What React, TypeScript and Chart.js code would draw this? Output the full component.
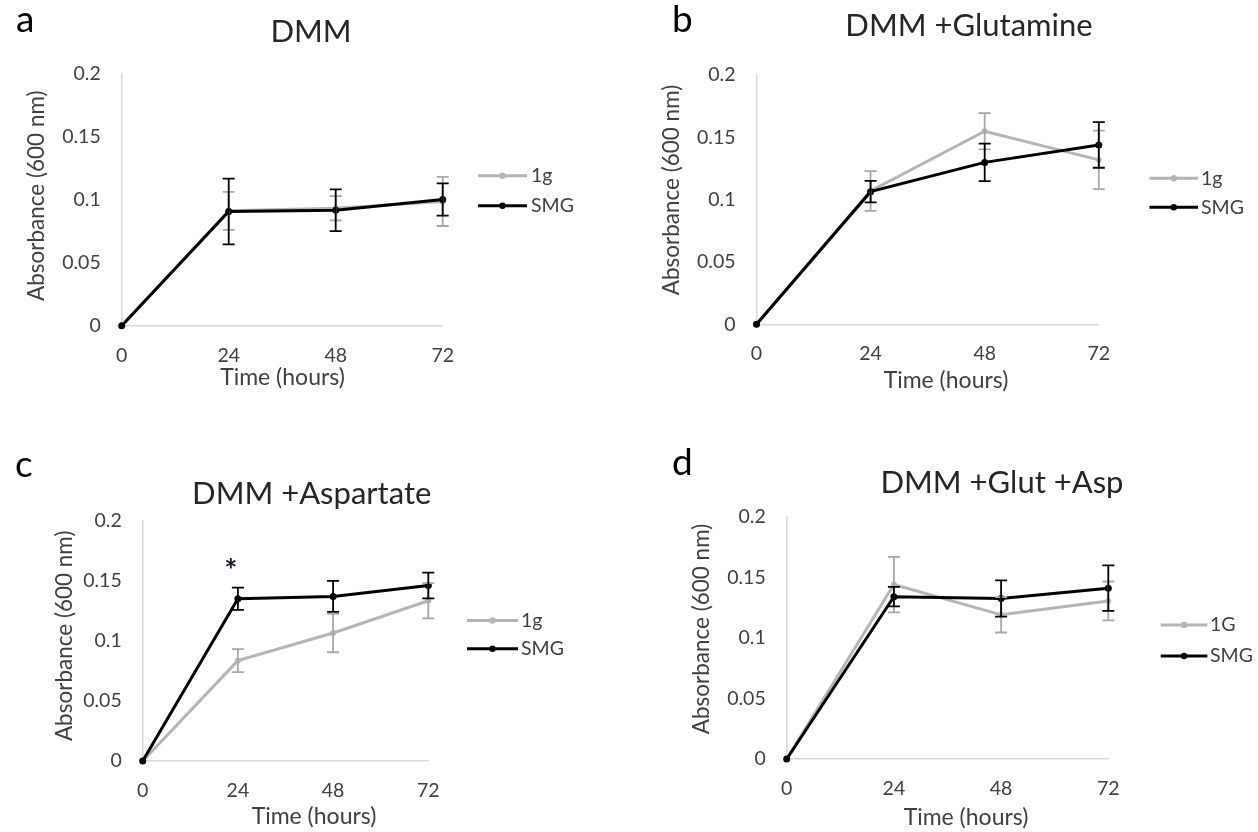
import React, { useEffect, useRef } from 'react';
import { Chart, registerables } from 'chart.js';

Chart.register(...registerables);

// ---------- data ----------
const timeLabels = ['0', '24', '48', '72'];
const yTickMin = 0;
const yTickMax = 0.2;
const yTickStep = 0.05;

// Panel a: DMM
const a1g = [0, 0.091, 0.093, 0.0985];
const a1gErr = [0, 0.015, 0.0096, 0.0195];
const aSMG = [0, 0.0905, 0.0915, 0.1];
const aSMGErr = [0, 0.026, 0.0165, 0.0128];

// Panel b: DMM +Glutamine
const b1g = [0, 0.107, 0.155, 0.132];
const b1gErr = [0, 0.016, 0.0145, 0.0235];
const bSMG = [0, 0.1065, 0.13, 0.144];
const bSMGErr = [0, 0.0086, 0.015, 0.0183];

// Panel c: DMM +Aspartate
const c1g = [0, 0.0835, 0.1065, 0.1334];
const c1gErr = [0, 0.0096, 0.016, 0.0147];
const cSMG = [0, 0.135, 0.137, 0.146];
const cSMGErr = [0, 0.0093, 0.0129, 0.0107];

// Panel d: DMM +Glut +Asp
const d1g = [0, 0.144, 0.119, 0.1305];
const d1gErr = [0, 0.0229, 0.0146, 0.016];
const dSMG = [0, 0.134, 0.1325, 0.141];
const dSMGErr = [0, 0.008, 0.0149, 0.0188];

const panelLetters = ['a', 'b', 'c', 'd'];
const panelTitles = ['DMM', 'DMM +Glutamine', 'DMM +Aspartate', 'DMM +Glut +Asp'];
const seriesNamesLower = ['1g', 'SMG'];
const seriesNamesUpper = ['1G', 'SMG'];
const xAxisTitle = 'Time (hours)';
const yAxisTitle = 'Absorbance (600 nm)';

// ---------- styles ----------
const FONT = 'Lato, "Open Sans", sans-serif';
const GRAY = '#b5b5b5';
const GRAY_ERR = '#a8a8a8';
const BLACK = '#000000';
const TEXT = '#404040';

const CW = 629;
const CH = 416;

type Layout = {
  left: number; top: number;
  yWidth: number; padTop: number; padRight: number; padBottom: number;
  letterX: number; letterY: number;
  titleX: number; titleY: number;
  xTitleX: number; xTitleY: number;
  yTitleX: number; yTitleY: number;
  legX0: number; legX1: number; legTextX: number; legY1: number; legY2: number;
  asterisk?: { dx: number; y: number };
};

const layouts: Layout[] = [
  { left: 0, top: 0, yWidth: 121.7, padTop: 73.3, padRight: 186.3, padBottom: 30.3,
    letterX: 16, letterY: 32, titleX: 311, titleY: 32, xTitleX: 282.5, xTitleY: 377.7,
    yTitleX: 37, yTitleY: 195.7, legX0: 478, legX1: 527, legTextX: 531, legY1: 175.7, legY2: 205.7 },
  { left: 629, top: 0, yWidth: 127.5, padTop: 75.2, padRight: 159.2, padBottom: 31.7,
    letterX: 43, letterY: 31.7, titleX: 340, titleY: 26, xTitleX: 317, xTitleY: 381,
    yTitleX: 42.7, yTitleY: 190, legX0: 520.5, legX1: 569, legTextX: 572, legY1: 178.3, legY2: 207.3 },
  { left: 0, top: 416, yWidth: 142.7, padTop: 104.7, padRight: 200.7, padBottom: 11,
    letterX: 15, letterY: 60.7, titleX: 311.7, titleY: 78, xTitleX: 314, xTitleY: 400.7,
    yTitleX: 65, yTitleY: 219.8, legX0: 467, legX1: 518, legTextX: 521, legY1: 204.5, legY2: 232.8,
    asterisk: { dx: -7, y: 149 } },
  { left: 629, top: 416, yWidth: 157.7, padTop: 100.7, padRight: 149.7, padBottom: 13,
    letterX: 43, letterY: 59, titleX: 373, titleY: 66.5, xTitleX: 337, xTitleY: 401.3,
    yTitleX: 72.7, yTitleY: 213, legX0: 531.7, legX1: 578.4, legTextX: 581, legY1: 209, legY2: 240 },
];

const panelSeries = [
  { g: a1g, gErr: a1gErr, s: aSMG, sErr: aSMGErr, names: seriesNamesLower },
  { g: b1g, gErr: b1gErr, s: bSMG, sErr: bSMGErr, names: seriesNamesLower },
  { g: c1g, gErr: c1gErr, s: cSMG, sErr: cSMGErr, names: seriesNamesLower },
  { g: d1g, gErr: d1gErr, s: dSMG, sErr: dSMGErr, names: seriesNamesUpper },
];

const errorBarPlugin = {
  id: 'errorBars',
  afterDatasetsDraw(chart: any) {
    const ctx = chart.ctx;
    const xs = chart.scales.x;
    const ys = chart.scales.y;
    chart.data.datasets.forEach((ds: any) => {
      const errs: number[] = ds.errors;
      if (!errs) return;
      ctx.save();
      ctx.strokeStyle = ds.errorColor;
      ctx.lineWidth = 1.8;
      ds.data.forEach((v: number, j: number) => {
        const e = errs[j];
        if (!e) return;
        const px = xs.getPixelForValue(j);
        const top = ys.getPixelForValue(v + e);
        const bot = ys.getPixelForValue(v - e);
        ctx.beginPath();
        ctx.moveTo(px, top); ctx.lineTo(px, bot);
        ctx.moveTo(px - 6, top); ctx.lineTo(px + 6, top);
        ctx.moveTo(px - 6, bot); ctx.lineTo(px + 6, bot);
        ctx.stroke();
      });
      ctx.restore();
    });
  },
};

const decorPlugin = {
  id: 'panelDecor',
  afterDraw(chart: any) {
    const o = chart.options.plugins.panelDecor;
    if (!o) return;
    const L: Layout = o.layout;
    const ctx = chart.ctx;
    ctx.save();
    // panel letter
    ctx.fillStyle = '#000';
    ctx.font = `37px ${FONT}`;
    ctx.textAlign = 'left';
    ctx.textBaseline = 'alphabetic';
    ctx.fillText(o.letter, L.letterX, L.letterY);
    // title
    ctx.fillStyle = '#262626';
    ctx.font = `31px ${FONT}`;
    ctx.textAlign = 'center';
    ctx.textBaseline = 'middle';
    ctx.fillText(o.title, L.titleX, L.titleY);
    // x axis title
    ctx.fillStyle = TEXT;
    ctx.font = `23px ${FONT}`;
    ctx.fillText(xAxisTitle, L.xTitleX, L.xTitleY);
    // y axis title
    ctx.save();
    ctx.translate(L.yTitleX, L.yTitleY);
    ctx.rotate(-Math.PI / 2);
    ctx.font = `22.5px ${FONT}`;
    ctx.fillText(yAxisTitle, 0, 0);
    ctx.restore();
    // legend
    const items = [
      { name: o.names[0], color: GRAY, y: L.legY1 },
      { name: o.names[1], color: BLACK, y: L.legY2 },
    ];
    items.forEach((it) => {
      ctx.strokeStyle = it.color;
      ctx.lineWidth = 3;
      ctx.beginPath();
      ctx.moveTo(L.legX0, it.y);
      ctx.lineTo(L.legX1, it.y);
      ctx.stroke();
      ctx.fillStyle = it.color;
      ctx.beginPath();
      ctx.arc((L.legX0 + L.legX1) / 2, it.y, 3.2, 0, Math.PI * 2);
      ctx.fill();
      ctx.fillStyle = TEXT;
      ctx.font = `19.5px ${FONT}`;
      ctx.textAlign = 'left';
      ctx.textBaseline = 'middle';
      ctx.fillText(it.name, L.legTextX, it.y);
    });
    // asterisk
    if (L.asterisk) {
      const xs = chart.scales.x;
      ctx.fillStyle = '#1a1a2e';
      ctx.font = `bold 31px ${FONT}`;
      ctx.textAlign = 'center';
      ctx.textBaseline = 'middle';
      ctx.fillText('*', xs.getPixelForValue(1) + L.asterisk.dx, L.asterisk.y + 6);
    }
    ctx.restore();
  },
};

function Panel({ idx }: { idx: number }) {
  const ref = useRef<HTMLCanvasElement | null>(null);
  useEffect(() => {
    const L = layouts[idx];
    const S = panelSeries[idx];
    const chart = new Chart(ref.current as HTMLCanvasElement, {
      type: 'line',
      data: {
        labels: timeLabels,
        datasets: [
          {
            label: S.names[0],
            data: S.g,
            errors: S.gErr,
            errorColor: GRAY_ERR,
            borderColor: GRAY,
            backgroundColor: GRAY,
            borderWidth: 3,
            pointRadius: 3,
            pointBorderWidth: 0,
            pointBackgroundColor: GRAY,
            tension: 0,
            clip: false,
            order: 1,
          } as any,
          {
            label: S.names[1],
            data: S.s,
            errors: S.sErr,
            errorColor: BLACK,
            borderColor: BLACK,
            backgroundColor: BLACK,
            borderWidth: 3,
            pointRadius: 3.5,
            pointBorderWidth: 0,
            pointBackgroundColor: BLACK,
            tension: 0,
            clip: false,
            order: 0,
          } as any,
        ],
      },
      options: {
        responsive: false,
        animation: false,
        devicePixelRatio: 1,
        layout: { padding: { left: 0, top: L.padTop, right: L.padRight, bottom: L.padBottom } },
        scales: {
          x: {
            type: 'category',
            offset: false,
            grid: { display: false, drawTicks: false },
            border: { display: true, color: '#d9d9d9', width: 1.5 },
            ticks: {
              padding: 18,
              autoSkip: false,
              maxRotation: 0,
              color: TEXT,
              font: { family: FONT, size: 19.5 },
            },
            afterFit: (s: any) => { s.height = 60; },
          },
          y: {
            min: yTickMin,
            max: yTickMax,
            grid: { display: false, drawTicks: false },
            border: { display: true, color: '#d9d9d9', width: 1.5 },
            ticks: {
              stepSize: yTickStep,
              padding: 21,
              color: TEXT,
              font: { family: FONT, size: 19.5 },
              callback: (v: any) => String(Number(Number(v).toFixed(2))),
            },
            afterFit: (s: any) => { s.width = L.yWidth; },
          },
        },
        plugins: {
          legend: { display: false },
          tooltip: { enabled: false },
          title: { display: false },
          panelDecor: {
            layout: L,
            letter: panelLetters[idx],
            title: panelTitles[idx],
            names: S.names,
          },
        } as any,
      },
      plugins: [errorBarPlugin, decorPlugin],
    } as any);
    return () => chart.destroy();
  }, [idx]);
  const L = layouts[idx];
  return (
    <canvas
      ref={ref}
      width={CW}
      height={CH}
      style={{ position: 'absolute', left: L.left, top: L.top, width: CW, height: CH }}
    />
  );
}

export default function App() {
  return (
    <div style={{ position: 'absolute', left: 0, top: 0, width: 1258, height: 832, background: '#ffffff', overflow: 'hidden' }}>
      {[0, 1, 2, 3].map((i) => (
        <Panel key={i} idx={i} />
      ))}
    </div>
  );
}
